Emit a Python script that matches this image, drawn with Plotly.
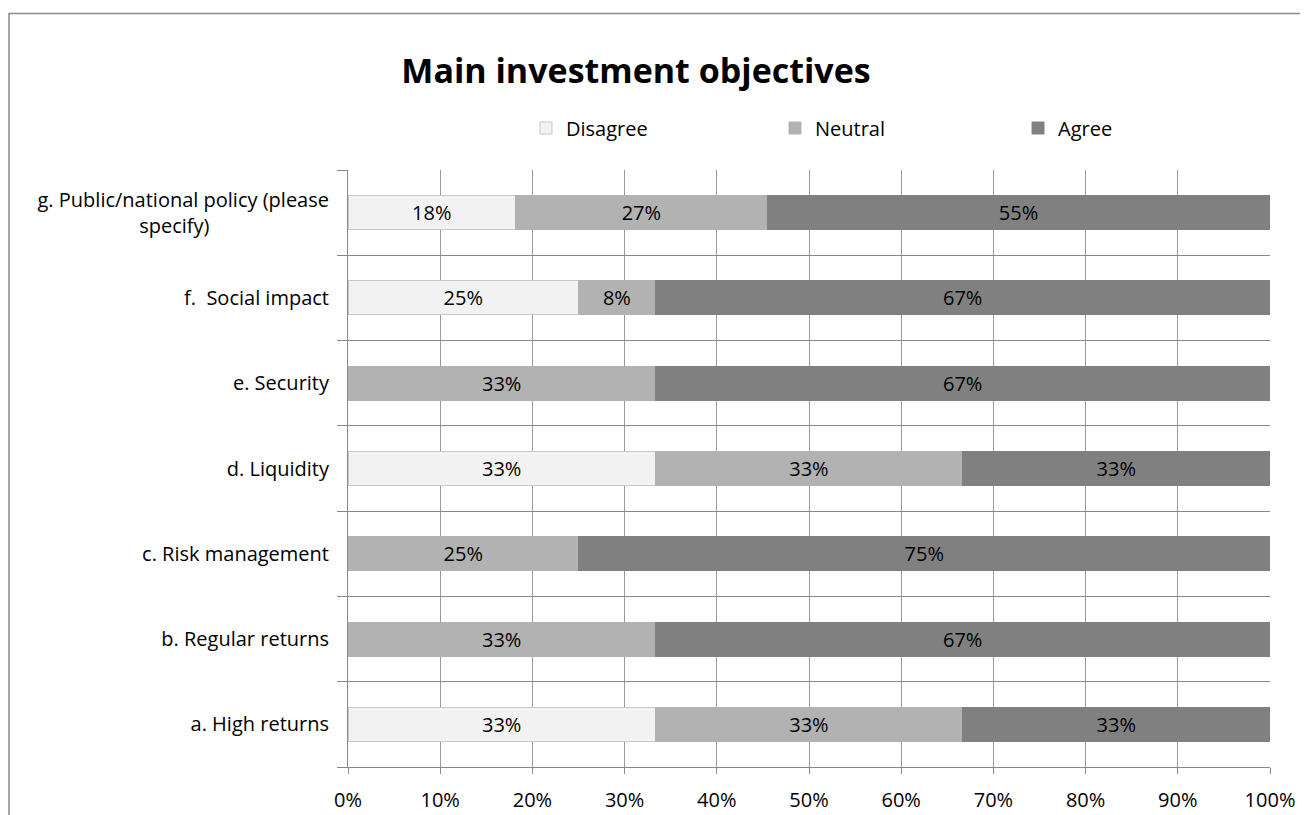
import plotly.graph_objects as go

categories = [
    "a. High returns",
    "b. Regular returns",
    "c. Risk management",
    "d. Liquidity",
    "e. Security",
    "f.  Social impact",
    "g. Public/national policy (please<br>specify)" + "\u00a0" * 23,
]
series_names = ["Disagree", "Neutral", "Agree"]
disagree = [33.33, 0, 0, 33.33, 0, 25.0, 18.18]
neutral = [33.33, 33.33, 25.0, 33.33, 33.33, 8.33, 27.27]
agree = [33.33, 66.67, 75.0, 33.33, 66.67, 66.67, 54.55]
x_ticks = [0, 10, 20, 30, 40, 50, 60, 70, 80, 90, 100]

colors = ["#F2F2F2", "#B2B2B2", "#808080"]
line_colors = ["#C8C8C8", "#B2B2B2", "#808080"]
FONT = "Open Sans"
FS = 20

# page body adds an 8px offset; figure coords = screen coords - 8
W, H = 1300, 807
ML, MR, MT, MB = 340, 38, 162, 48
PW, PH = W - ML - MR, H - MT - MB


def px_x(px):
    return (px - ML) / PW


def px_y(py):
    return (H - MB - py) / PH


fig = go.Figure()
legend_ids = ["legend", "legend2", "legend3"]
for name, vals, c, lc, lg in zip(series_names, [disagree, neutral, agree], colors, line_colors, legend_ids):
    fig.add_trace(go.Bar(
        y=categories, x=vals, name=name, orientation="h",
        marker=dict(color=c, line=dict(color=lc, width=1)),
        text=[f"{v:.0f}%" if v > 0 else "" for v in vals],
        textposition="inside", insidetextanchor="middle", textangle=0,
        constraintext="none",
        textfont=dict(family=FONT, size=FS, color="#000000"),
        legend=lg,
    ))

legend_common = dict(orientation="h", yanchor="middle", y=px_y(120), xanchor="left",
                     bgcolor="rgba(0,0,0,0)", font=dict(family=FONT, size=FS, color="#000000"),
                     itemwidth=30)

fig.update_layout(
    width=W, height=H,
    margin=dict(l=ML, r=MR, t=MT, b=MB, autoexpand=False),
    paper_bgcolor="white", plot_bgcolor="white",
    barmode="stack", bargap=0.6,
    font=dict(family=FONT, size=FS, color="#000000"),
    title=dict(text="<b>Main investment objectives</b>", x=628 / W, xanchor="center",
               y=1 - 63 / H, yanchor="middle", font=dict(family=FONT, size=34, color="#000000")),
    legend=dict(legend_common, x=px_x(518)),
    legend2=dict(legend_common, x=px_x(767)),
    legend3=dict(legend_common, x=px_x(1010)),
    showlegend=True,
    xaxis=dict(range=[0, 100], tickvals=x_ticks, ticktext=[f"{t}%" for t in x_ticks],
               showgrid=True, gridcolor="#9A9A9A", gridwidth=1,
               showline=True, linecolor="#888888", linewidth=1,
               ticks="outside", ticklen=6, tickcolor="#888888",
               ticklabelstandoff=9, zeroline=False,
               tickfont=dict(family=FONT, size=FS, color="#000000")),
    yaxis=dict(categoryorder="array", categoryarray=categories,
               tickson="boundaries", ticks="outside", ticklen=10, tickcolor="#888888",
               showgrid=True, gridcolor="#888888", gridwidth=1,
               showline=True, linecolor="#888888", linewidth=1,
               ticklabelstandoff=14,
               tickfont=dict(family=FONT, size=FS, color="#000000")),
    shapes=[dict(type="rect", xref="paper", yref="paper",
                 x0=px_x(1), x1=px_x(1293.5), y0=px_y(900), y1=px_y(5.5),
                 line=dict(color="#8A8A8A", width=1.5), fillcolor="rgba(0,0,0,0)", layer="below")],
)

fig.write_html("out.html")
